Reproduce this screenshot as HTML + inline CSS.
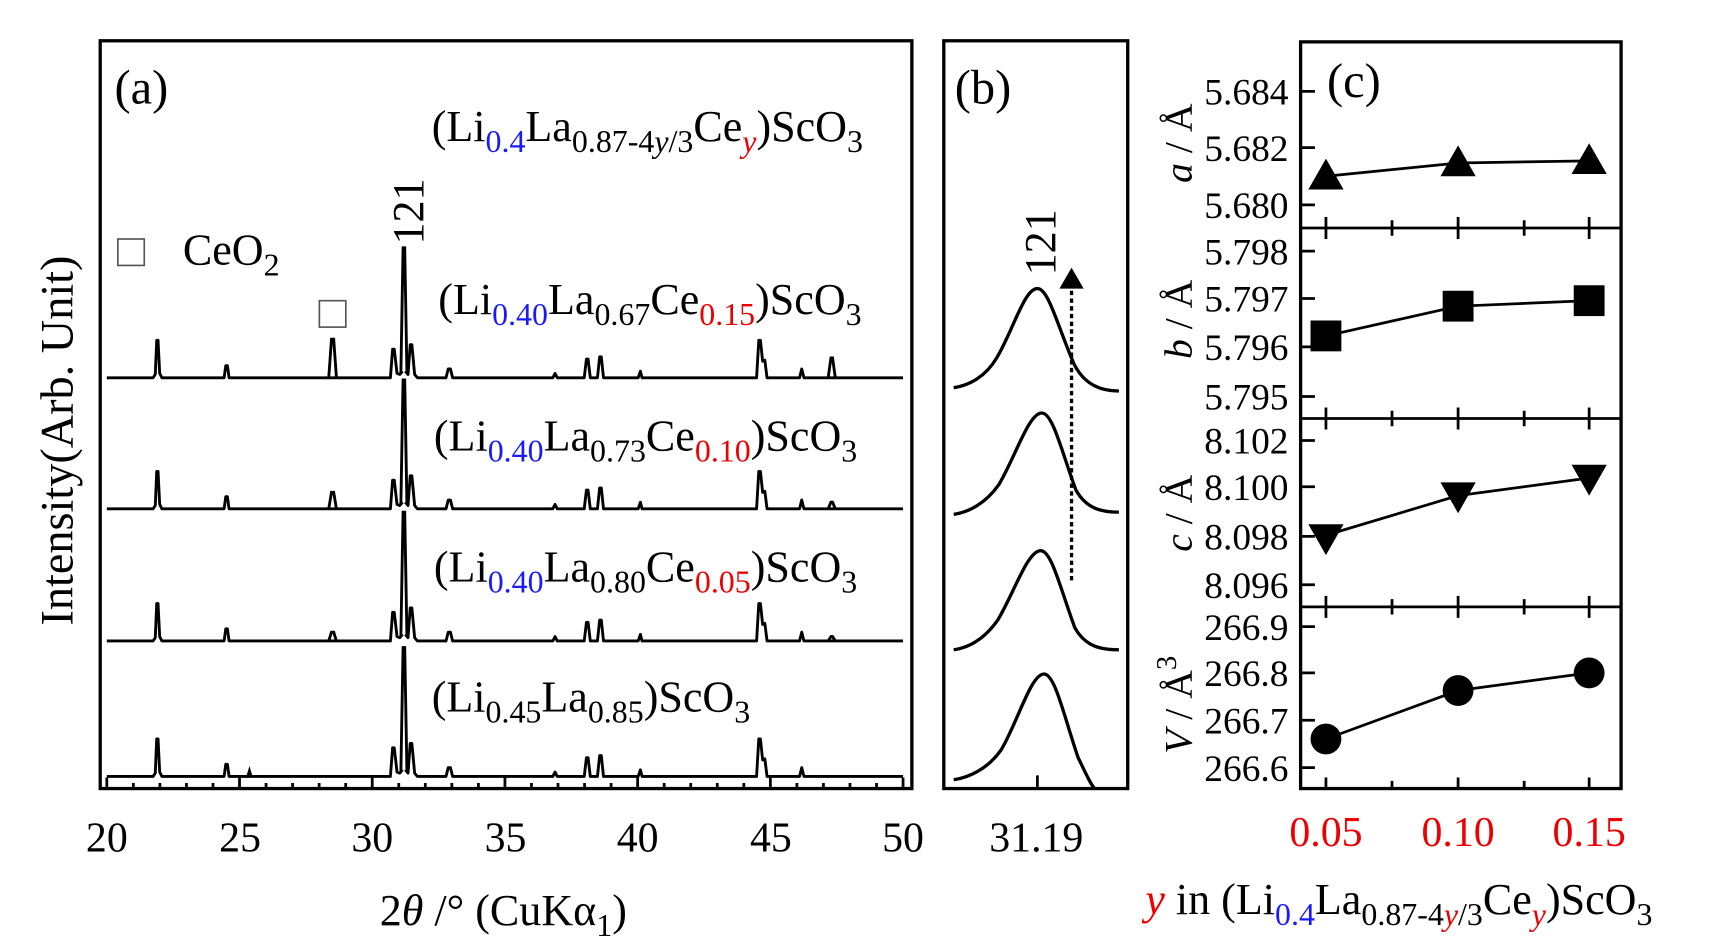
<!DOCTYPE html>
<html><head><meta charset="utf-8"><style>
html,body{margin:0;padding:0;background:#fff;}
svg{display:block;font-family:"Liberation Serif",serif;}
</style></head><body>
<svg width="1718" height="940" viewBox="0 0 1560 853.5" xmlns="http://www.w3.org/2000/svg">
<rect width="1560" height="854" fill="#fff"/>
<defs>
<path id="tr" d="M97 0 H139 L141 -3 L142.3 -34 L143.5 -34 L145 -4 L147 0 H203.5 L205 -11 L206.5 -11 L208 0 H354.5 L356.5 -26 L358 -26 L360.5 -4 L363 -3 L365.5 -6 M368 -6 L370.5 -3 L372.5 -30 L374 -30 L376.5 -3 L379 0 H405 L407 -8 L409 -8 L411 0 H502 L504 -4 L506 0 H530.5 L532.5 -17 L534 -17 L536 0 H542.5 L544.5 -19 L546 -19 L548 0 H579.5 L581.5 -6 L583 0 H687 L689 -34 L690.5 -34 L692.5 -15 L694.5 -16 L696.5 0 H726 L728 -8 L730 0 H820" fill="none" stroke="#000" stroke-width="2.6" stroke-linejoin="round"/>
</defs>
<g transform="translate(0,343)"><use href="#tr"/><path d="M364 -4 L366 -118 L367.5 -118 L369.5 -4 M298.5 0 L301 -35 L303 -35 L305.5 0 M752 0 L754.5 -18 L756 -18 L758.5 0" fill="none" stroke="#000" stroke-width="2.6"/></g>
<g transform="translate(0,462)"><use href="#tr"/><path d="M364 -4 L366 -117 L367.5 -117 L369.5 -4 M298.5 0 L301 -15 L303 -15 L305.5 0 M752 0 L754.5 -6 L756 -6 L758.5 0" fill="none" stroke="#000" stroke-width="2.6"/></g>
<g transform="translate(0,582)"><use href="#tr"/><path d="M364 -4 L366 -117 L367.5 -117 L369.5 -4 M298.5 0 L301 -8 L303 -8 L305.5 0 M752 0 L754.5 -4 L756 -4 L758.5 0" fill="none" stroke="#000" stroke-width="2.6"/></g>
<g transform="translate(0,705)"><use href="#tr"/><path d="M364 -4 L366 -117 L367.5 -117 L369.5 -4 M225 0 L226.5 -5 L228 0" fill="none" stroke="#000" stroke-width="2.6"/></g>
<g fill="none" stroke="#000" stroke-width="3">
<path d="M866 352 C880 350 895 342 905 325 C920 300 930 262 942 262 C952 262 960 295 975 330 C985 350 1000 355 1016 355"/>
<path d="M866 467 C880 465 895 457 907 440 C922 415 934 375 946 375 C956 375 964 410 977 445 C987 463 1002 465 1016 465"/>
<path d="M866 590 C880 588 894 580 906 563 C921 538 933 500 945 500 C955 500 963 535 976 570 C986 588 1001 590 1016 590"/>
<path d="M866 708 C880 706 897 698 909 681 C924 656 936 612 948 612 C958 612 966 650 979 688 C985 700 990 712 994 716"/>
</g>
<rect x="91" y="37" width="737" height="679" fill="none" stroke="#000" stroke-width="3"/>
<rect x="857" y="37" width="167" height="679" fill="none" stroke="#000" stroke-width="3"/>
<rect x="1181" y="38" width="291" height="678" fill="none" stroke="#000" stroke-width="3"/>
<g stroke="#000" stroke-width="2.5">
<line x1="1181" y1="207" x2="1472" y2="207"/>
<line x1="1181" y1="380" x2="1472" y2="380"/>
<line x1="1181" y1="551" x2="1472" y2="551"/>
</g>
<path stroke="#000" stroke-width="2.5" fill="none" d="M97 716V706M121.1 716V711M145.2 716V711M169.3 716V711M193.4 716V711M217.5 716V706M241.6 716V711M265.7 716V711M289.8 716V711M313.9 716V711M338 716V706M362.1 716V711M386.2 716V711M410.3 716V711M434.4 716V711M458.5 716V706M482.6 716V711M506.7 716V711M530.8 716V711M554.9 716V711M579 716V706M603.1 716V711M627.2 716V711M651.3 716V711M675.4 716V711M699.5 716V706M723.6 716V711M747.7 716V711M771.8 716V711M795.9 716V711M820 716V706M942 716V704
M1204 197V217M1264 200V214M1324 197V217M1384 200V214M1443 197V217
M1204 370V390M1264 373V387M1324 370V390M1384 373V387M1443 370V390
M1204 541V561M1264 544V558M1324 541V561M1384 544V558M1443 541V561
M1204 716V706M1264 716V709M1324 716V706M1384 716V709M1443 716V706
M1181 83H1194M1181 134H1194M1181 186H1194M1181 228H1194M1181 271H1194M1181 315H1194M1181 360H1194M1181 400H1194M1181 442H1194M1181 487H1194M1181 531H1194M1181 569H1194M1181 611H1194M1181 654H1194M1181 697H1194"/>
<g font-size="44" fill="#000">
<text x="104" y="94">(a)</text>
<text x="867" y="94">(b)</text>
<text x="1205" y="88">(c)</text>
</g>
<g font-size="40" fill="#000">
<text x="392" y="128">(Li<tspan font-size="29" dy="10" fill="#1a1aff">0.4</tspan><tspan dy="-10">La</tspan><tspan font-size="29" dy="10">0.87-4<tspan font-style="italic">y</tspan>/3</tspan><tspan dy="-10">Ce</tspan><tspan font-size="29" dy="10" fill="#e00" font-style="italic">y</tspan><tspan dy="-10">)ScO</tspan><tspan font-size="29" dy="10">3</tspan></text>
<text x="398" y="285">(Li<tspan font-size="29" dy="10" fill="#1a1aff">0.40</tspan><tspan dy="-10">La</tspan><tspan font-size="29" dy="10">0.67</tspan><tspan dy="-10">Ce</tspan><tspan font-size="29" dy="10" fill="#e00">0.15</tspan><tspan dy="-10">)ScO</tspan><tspan font-size="29" dy="10">3</tspan></text>
<text x="394" y="409">(Li<tspan font-size="29" dy="10" fill="#1a1aff">0.40</tspan><tspan dy="-10">La</tspan><tspan font-size="29" dy="10">0.73</tspan><tspan dy="-10">Ce</tspan><tspan font-size="29" dy="10" fill="#e00">0.10</tspan><tspan dy="-10">)ScO</tspan><tspan font-size="29" dy="10">3</tspan></text>
<text x="394" y="528">(Li<tspan font-size="29" dy="10" fill="#1a1aff">0.40</tspan><tspan dy="-10">La</tspan><tspan font-size="29" dy="10">0.80</tspan><tspan dy="-10">Ce</tspan><tspan font-size="29" dy="10" fill="#e00">0.05</tspan><tspan dy="-10">)ScO</tspan><tspan font-size="29" dy="10">3</tspan></text>
<text x="392" y="646">(Li<tspan font-size="29" dy="10">0.45</tspan><tspan dy="-10">La</tspan><tspan font-size="29" dy="10">0.85</tspan><tspan dy="-10">)ScO</tspan><tspan font-size="29" dy="10">3</tspan></text>
<text x="166" y="240">CeO<tspan font-size="29" dy="10">2</tspan></text>
<text transform="translate(384,222) rotate(-90)">121</text>
<text transform="translate(958,250) rotate(-90)">121</text>
<text transform="translate(66,400) rotate(-90)" text-anchor="middle" font-size="42">Intensity(Arb. Unit)</text>
<text x="457" y="840" text-anchor="middle">2<tspan font-style="italic">θ</tspan> /° (CuKα<tspan font-size="29" dy="10">1</tspan><tspan dy="-10">)</tspan></text>
<text x="1040" y="830"><tspan fill="#e00" font-style="italic">y</tspan> in (Li<tspan font-size="29" dy="10" fill="#1a1aff">0.4</tspan><tspan dy="-10">La</tspan><tspan font-size="29" dy="10">0.87-4<tspan font-style="italic" fill="#e00">y</tspan>/3</tspan><tspan dy="-10">Ce</tspan><tspan font-size="29" dy="10" fill="#e00" font-style="italic">y</tspan><tspan dy="-10">)ScO</tspan><tspan font-size="29" dy="10">3</tspan></text>
</g>
<rect x="107" y="217" width="24" height="24" fill="none" stroke="#555" stroke-width="1.5"/>
<rect x="290" y="273" width="24" height="24" fill="none" stroke="#555" stroke-width="1.5"/>
<g font-size="38" text-anchor="middle">
<text x="97" y="773">20</text><text x="218" y="773">25</text><text x="338" y="773">30</text><text x="459" y="773">35</text><text x="579" y="773">40</text><text x="700" y="773">45</text><text x="820" y="773">50</text>
<text x="941" y="773">31.19</text>
</g>
<g font-size="38" text-anchor="middle" fill="#e00">
<text x="1204" y="768">0.05</text><text x="1324" y="768">0.10</text><text x="1443" y="768">0.15</text>
</g>
<g font-size="34" text-anchor="end">
<text x="1170" y="95">5.684</text><text x="1170" y="146">5.682</text><text x="1170" y="198">5.680</text>
<text x="1170" y="240">5.798</text><text x="1170" y="283">5.797</text><text x="1170" y="327">5.796</text><text x="1170" y="372">5.795</text>
<text x="1170" y="412">8.102</text><text x="1170" y="454">8.100</text><text x="1170" y="499">8.098</text><text x="1170" y="543">8.096</text>
<text x="1170" y="581">266.9</text><text x="1170" y="623">266.8</text><text x="1170" y="666">266.7</text><text x="1170" y="709">266.6</text>
</g>
<g font-size="36" text-anchor="middle">
<text transform="translate(1082,130) rotate(-90)"><tspan font-style="italic">a</tspan> / Å</text>
<text transform="translate(1082,290) rotate(-90)"><tspan font-style="italic">b</tspan> / Å</text>
<text transform="translate(1082,466) rotate(-90)"><tspan font-style="italic">c</tspan> / Å</text>
<text transform="translate(1082,640) rotate(-90)"><tspan font-style="italic">V</tspan> / Å<tspan font-size="26" dy="-14">3</tspan></text>
</g>
<g stroke="#000" stroke-width="2.5" fill="none">
<polyline points="1204,160 1324,148 1443,146"/>
<polyline points="1204,305 1324,278 1443,273"/>
<polyline points="1204,486 1324,450 1443,434"/>
<polyline points="1204,671 1324,627 1443,611"/>
</g>
<g fill="#000">
<polygon points="1188,172 1220,172 1204,144"/><polygon points="1308,160 1340,160 1324,132"/><polygon points="1427,158 1459,158 1443,130"/>
<rect x="1190" y="291" width="28" height="28"/><rect x="1310" y="264" width="28" height="28"/><rect x="1429" y="259" width="28" height="28"/>
<polygon points="1188,476 1220,476 1204,504"/><polygon points="1308,438 1340,438 1324,466"/><polygon points="1427,422 1459,422 1443,450"/>
<circle cx="1204" cy="671" r="14"/><circle cx="1324" cy="627" r="14"/><circle cx="1443" cy="611" r="14"/>
</g>
<line x1="973" y1="527" x2="973" y2="262" stroke="#000" stroke-width="3" stroke-dasharray="4,3"/>
<polygon points="962,262 984,262 973,243" fill="#000"/>
</svg>
</body></html>
